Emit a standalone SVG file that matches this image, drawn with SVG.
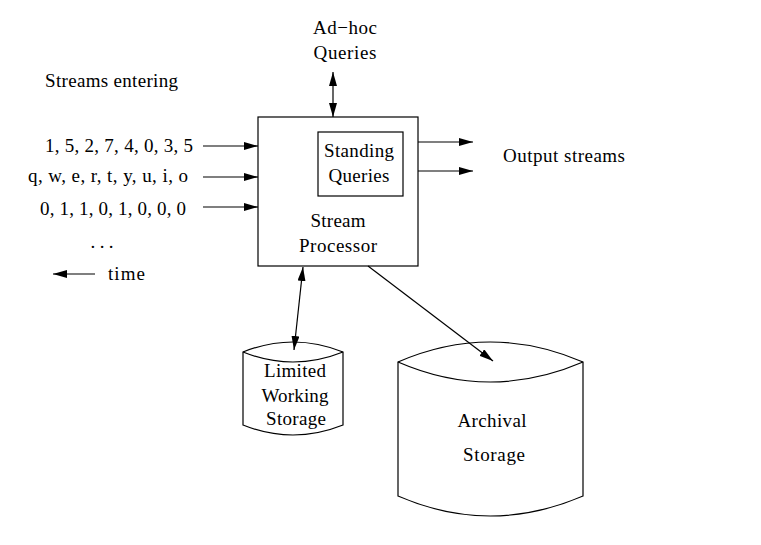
<svg xmlns="http://www.w3.org/2000/svg" width="761" height="545" viewBox="0 0 761 545">
<defs>
<style>
text{font-family:"Liberation Serif","Times New Roman",serif;font-size:19px;fill:#000}
.c{text-anchor:middle}
.ln{stroke:#000;stroke-width:1.2;fill:none}
.sh{stroke:#000;stroke-width:1.2;fill:#fff}
</style>
<marker id="ah" viewBox="0 0 14 8" refX="14" refY="4" markerWidth="14" markerHeight="8" markerUnits="userSpaceOnUse" orient="auto-start-reverse">
<path d="M0,0 L14,4 L0,8 Z" fill="#000"/>
</marker>
</defs>
<rect width="761" height="545" fill="#fff"/>

<g id="streams-label">
<text x="45" y="87" textLength="133" lengthAdjust="spacing">Streams entering</text>
</g>
<g id="stream-inputs">
<text x="193" y="152" text-anchor="end" textLength="148" lengthAdjust="spacing">1, 5, 2, 7, 4, 0, 3, 5</text>
<text x="188" y="182" text-anchor="end" textLength="160" lengthAdjust="spacing">q, w, e, r, t, y, u, i, o</text>
<text x="186" y="215" text-anchor="end" textLength="146" lengthAdjust="spacing">0, 1, 1, 0, 1, 0, 0, 0</text>
<text x="102" y="248" class="c" textLength="23" lengthAdjust="spacing">. . .</text>
<text x="108" y="280" textLength="37" lengthAdjust="spacing">time</text>
</g>

<g id="adhoc">
<text x="345" y="34" class="c" textLength="64" lengthAdjust="spacing">Ad−hoc</text>
<text x="345" y="59" class="c" textLength="63" lengthAdjust="spacing">Queries</text>
</g>

<g id="processor">
<rect x="258" y="117" width="160" height="149" class="sh"/>
<text x="338" y="227" class="c" textLength="55" lengthAdjust="spacing">Stream</text>
<text x="338" y="252" class="c" textLength="78" lengthAdjust="spacing">Processor</text>
</g>

<g id="standing">
<rect x="318" y="132" width="85" height="64" class="sh"/>
<text x="359" y="157" class="c" textLength="70" lengthAdjust="spacing">Standing</text>
<text x="359" y="182" class="c" textLength="61" lengthAdjust="spacing">Queries</text>
</g>

<g id="output-label">
<text x="503" y="162" textLength="122" lengthAdjust="spacing">Output streams</text>
</g>

<g id="limited-storage">
<path class="sh" d="M243,352 Q293,332 343,352 L343,425 Q293,445 243,425 Z"/>
<path class="ln" d="M243,352 Q293,372 343,352"/>
<text x="295" y="377" class="c" textLength="62" lengthAdjust="spacing">Limited</text>
<text x="295" y="402" class="c" textLength="67" lengthAdjust="spacing">Working</text>
<text x="296" y="425" class="c" textLength="60" lengthAdjust="spacing">Storage</text>
</g>

<g id="archival-storage">
<path class="sh" d="M398,362 Q490,322 583,362 L583,496 Q490,536 398,496 Z"/>
<path class="ln" d="M398,362 Q490,402 583,362"/>
<text x="492" y="427" class="c" textLength="69" lengthAdjust="spacing">Archival</text>
<text x="494" y="461" class="c" textLength="62" lengthAdjust="spacing">Storage</text>
</g>

<g id="connectors">
<line class="ln" x1="203" y1="146" x2="258" y2="146" marker-end="url(#ah)"/>
<line class="ln" x1="203" y1="177" x2="258" y2="177" marker-end="url(#ah)"/>
<line class="ln" x1="203" y1="207" x2="258" y2="207" marker-end="url(#ah)"/>
<line class="ln" x1="418" y1="142" x2="473" y2="142" marker-end="url(#ah)"/>
<line class="ln" x1="418" y1="171" x2="473" y2="171" marker-end="url(#ah)"/>
<line class="ln" x1="95" y1="274" x2="53" y2="274" marker-end="url(#ah)"/>
<line class="ln" x1="333" y1="72" x2="333" y2="117" marker-start="url(#ah)" marker-end="url(#ah)"/>
<line class="ln" x1="303" y1="267" x2="294" y2="350" marker-start="url(#ah)" marker-end="url(#ah)"/>
<line class="ln" x1="368" y1="266" x2="493" y2="361" marker-end="url(#ah)"/>
</g>
</svg>
